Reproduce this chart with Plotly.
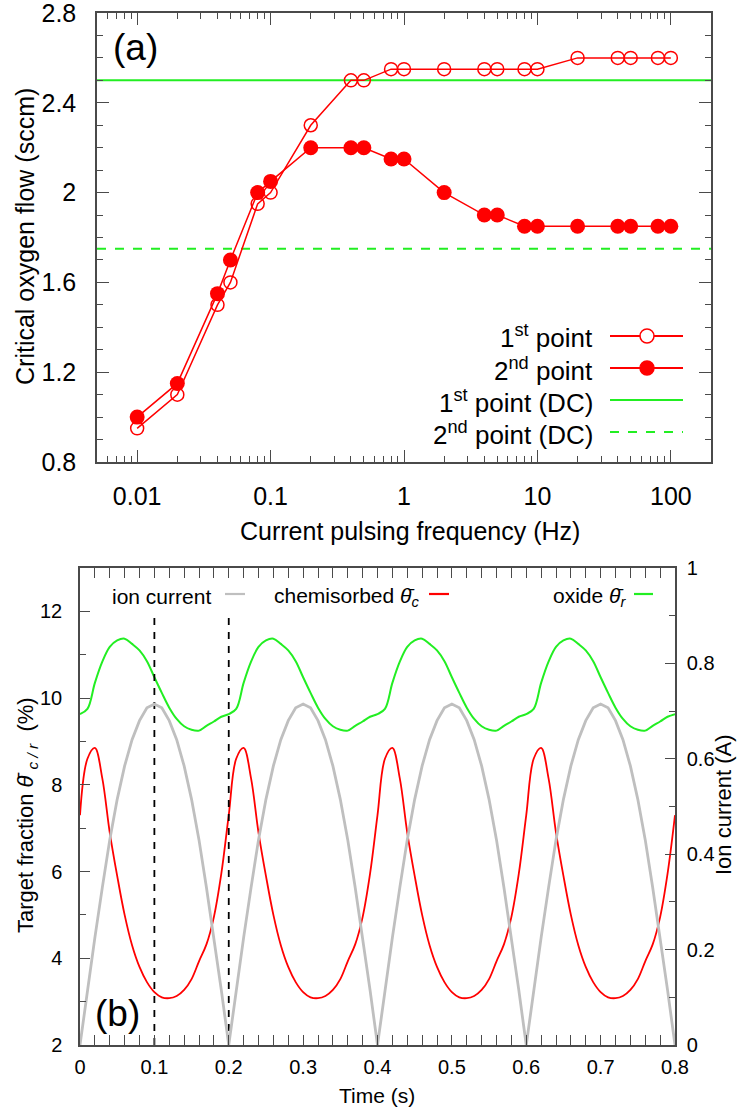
import plotly.graph_objects as go

# ---------------- panel (a): critical oxygen flow vs pulsing frequency ----------------
freq_hz = [0.01, 0.02, 0.04, 0.05, 0.08, 0.1, 0.2, 0.4, 0.5, 0.8, 1, 2, 4, 5, 8, 10,
           20, 40, 50, 80, 100]
first_point = [0.95, 1.10, 1.50, 1.60, 1.95, 2.00, 2.30, 2.50, 2.50, 2.55, 2.55, 2.55,
               2.55, 2.55, 2.55, 2.55, 2.60, 2.60, 2.60, 2.60, 2.60]
second_point = [1.00, 1.15, 1.55, 1.70, 2.00, 2.05, 2.20, 2.20, 2.20, 2.15, 2.15, 2.00,
                1.90, 1.90, 1.85, 1.85, 1.85, 1.85, 1.85, 1.85, 1.85]
dc_first = 2.50
dc_second = 1.75
freq_range = [0.005, 200]
freq_ticks = [0.01, 0.1, 1, 10, 100]
freq_labels = ["0.01", "0.1", "1", "10", "100"]

# ---------------- panel (b): time traces over four pulse periods ----------------
time_s = [0.00, 0.01, 0.02, 0.03, 0.04, 0.05, 0.06, 0.07, 0.08, 0.09,
          0.10, 0.11, 0.12, 0.13, 0.14, 0.15, 0.16, 0.17, 0.18, 0.19,
          0.20, 0.21, 0.22, 0.23, 0.24, 0.25, 0.26, 0.27, 0.28, 0.29,
          0.30, 0.31, 0.32, 0.33, 0.34, 0.35, 0.36, 0.37, 0.38, 0.39,
          0.40, 0.41, 0.42, 0.43, 0.44, 0.45, 0.46, 0.47, 0.48, 0.49,
          0.50, 0.51, 0.52, 0.53, 0.54, 0.55, 0.56, 0.57, 0.58, 0.59,
          0.60, 0.61, 0.62, 0.63, 0.64, 0.65, 0.66, 0.67, 0.68, 0.69,
          0.70, 0.71, 0.72, 0.73, 0.74, 0.75, 0.76, 0.77, 0.78, 0.79,
          0.80]
ion_current_a = [0.000, 0.115, 0.225, 0.330, 0.430, 0.515, 0.585, 0.640, 0.680, 0.707,
                 0.715, 0.707, 0.680, 0.640, 0.585, 0.515, 0.430, 0.330, 0.225, 0.115,
                 0.000, 0.115, 0.225, 0.330, 0.430, 0.515, 0.585, 0.640, 0.680, 0.707,
                 0.715, 0.707, 0.680, 0.640, 0.585, 0.515, 0.430, 0.330, 0.225, 0.115,
                 0.000, 0.115, 0.225, 0.330, 0.430, 0.515, 0.585, 0.640, 0.680, 0.707,
                 0.715, 0.707, 0.680, 0.640, 0.585, 0.515, 0.430, 0.330, 0.225, 0.115,
                 0.000, 0.115, 0.225, 0.330, 0.430, 0.515, 0.585, 0.640, 0.680, 0.707,
                 0.715, 0.707, 0.680, 0.640, 0.585, 0.515, 0.430, 0.330, 0.225, 0.115,
                 0.000]
chemisorbed_pct = [7.30, 8.60, 8.85, 8.15, 6.90, 5.90, 5.00, 4.30, 3.80, 3.45,
                   3.22, 3.10, 3.08, 3.13, 3.27, 3.52, 3.93, 4.32, 4.95, 5.95,
                   7.30, 8.60, 8.85, 8.15, 6.90, 5.90, 5.00, 4.30, 3.80, 3.45,
                   3.22, 3.10, 3.08, 3.13, 3.27, 3.52, 3.93, 4.32, 4.95, 5.95,
                   7.30, 8.60, 8.85, 8.15, 6.90, 5.90, 5.00, 4.30, 3.80, 3.45,
                   3.22, 3.10, 3.08, 3.13, 3.27, 3.52, 3.93, 4.32, 4.95, 5.95,
                   7.30, 8.60, 8.85, 8.15, 6.90, 5.90, 5.00, 4.30, 3.80, 3.45,
                   3.22, 3.10, 3.08, 3.13, 3.27, 3.52, 3.93, 4.32, 4.95, 5.95,
                   7.30]
oxide_pct = [9.63, 9.75, 10.35, 10.84, 11.18, 11.33, 11.37, 11.25, 11.10, 10.85,
             10.48, 10.12, 9.78, 9.52, 9.35, 9.27, 9.25, 9.36, 9.46, 9.57,
             9.63, 9.75, 10.35, 10.84, 11.18, 11.33, 11.37, 11.25, 11.10, 10.85,
             10.48, 10.12, 9.78, 9.52, 9.35, 9.27, 9.25, 9.36, 9.46, 9.57,
             9.63, 9.75, 10.35, 10.84, 11.18, 11.33, 11.37, 11.25, 11.10, 10.85,
             10.48, 10.12, 9.78, 9.52, 9.35, 9.27, 9.25, 9.36, 9.46, 9.57,
             9.63, 9.75, 10.35, 10.84, 11.18, 11.33, 11.37, 11.25, 11.10, 10.85,
             10.48, 10.12, 9.78, 9.52, 9.35, 9.27, 9.25, 9.36, 9.46, 9.57,
             9.63]
marker_times = [0.1, 0.2]
marker_span = [2, 12]

W, H = 738, 1115
RED = "#ff0000"
GREEN = "#22ee22"
GRAY = "#bfbfbf"
FRAME = "#4a4a4a"
FONT = "Liberation Sans, Arial, Helvetica, sans-serif"


def px(x):
    return x / W


def py(y):
    return 1 - y / H


fig = go.Figure()

# panel (a) traces
fig.add_trace(go.Scatter(x=freq_range, y=[dc_first, dc_first], mode="lines",
                         line=dict(color=GREEN, width=2), xaxis="x", yaxis="y",
                         showlegend=False))
fig.add_trace(go.Scatter(x=freq_range, y=[dc_second, dc_second], mode="lines",
                         line=dict(color=GREEN, width=2, dash="9px,9px"),
                         xaxis="x", yaxis="y", showlegend=False))
fig.add_trace(go.Scatter(x=freq_hz, y=first_point, mode="lines+markers",
                         line=dict(color=RED, width=1.5),
                         marker=dict(symbol="circle-open", size=13,
                                     line=dict(color=RED, width=1.5)),
                         xaxis="x", yaxis="y", showlegend=False))
fig.add_trace(go.Scatter(x=freq_hz, y=second_point, mode="lines+markers",
                         line=dict(color=RED, width=1.5),
                         marker=dict(symbol="circle", size=15, color=RED),
                         xaxis="x", yaxis="y", showlegend=False))

# panel (b) traces
fig.add_trace(go.Scatter(x=time_s, y=ion_current_a, mode="lines",
                         line=dict(color=GRAY, width=2.8), xaxis="x2", yaxis="y3",
                         showlegend=False))
fig.add_trace(go.Scatter(x=time_s, y=chemisorbed_pct, mode="lines",
                         line=dict(color=RED, width=1.8, shape="spline", smoothing=1.0),
                         xaxis="x2", yaxis="y2", showlegend=False))
fig.add_trace(go.Scatter(x=time_s, y=oxide_pct, mode="lines",
                         line=dict(color=GREEN, width=2, shape="spline", smoothing=1.0),
                         xaxis="x2", yaxis="y2", showlegend=False))
for tm in marker_times:
    fig.add_trace(go.Scatter(x=[tm, tm], y=marker_span, mode="lines",
                             line=dict(color="black", width=1.8, dash="7px,7px"),
                             xaxis="x2", yaxis="y2", showlegend=False))

axis_common = dict(showline=True, linecolor=FRAME, linewidth=1.5, ticks="inside",
                   tickcolor=FRAME, tickwidth=1.3, showgrid=False, zeroline=False,
                   automargin=False, ticklabeloverflow="allow")

fig.update_layout(
    width=W, height=H, autosize=False,
    margin=dict(l=0, r=0, t=0, b=0, pad=0),
    paper_bgcolor="white", plot_bgcolor="white",
    font=dict(family=FONT, color="black"),
    xaxis=dict(axis_common, type="log", range=[-2.301, 2.301], mirror="allticks",
               domain=[px(97), px(711)], anchor="y",
               tickvals=freq_ticks, ticktext=freq_labels, ticklen=12,
               tickfont=dict(size=25), ticklabelstandoff=11,
               minor=dict(ticks="inside", ticklen=6, tickcolor=FRAME, tickwidth=1.1,
                          dtick="D1", showgrid=False)),
    yaxis=dict(axis_common, range=[0.8, 2.8], domain=[py(462), py(13)], anchor="x",
               mirror="allticks",
               tick0=0.8, dtick=0.4, ticklen=12, tickfont=dict(size=25),
               ticklabelstandoff=14,
               minor=dict(ticks="inside", ticklen=6, tickcolor=FRAME, tickwidth=1.1,
                          dtick=0.1, showgrid=False)),
    xaxis2=dict(axis_common, range=[0, 0.8], domain=[px(80), px(675)], anchor="y2",
                mirror="allticks",
                tick0=0, dtick=0.1, ticklen=10, tickfont=dict(size=20),
                ticklabelstandoff=3,
                minor=dict(ticks="inside", ticklen=5, tickcolor=FRAME, tickwidth=1.1,
                           dtick=0.02, showgrid=False)),
    yaxis2=dict(axis_common, range=[2, 13], domain=[py(1045), py(568)], anchor="x2",
                tickvals=[2, 4, 6, 8, 10, 12], ticklen=10, tickfont=dict(size=20),
                ticklabelstandoff=12,
                minor=dict(ticks="inside", ticklen=6, tickcolor=FRAME, tickwidth=1.1,
                           dtick=1, showgrid=False)),
    yaxis3=dict(axis_common, overlaying="y2", side="right", anchor="x2", range=[0, 1],
                tick0=0, dtick=0.2, ticklen=10, tickfont=dict(size=20),
                ticklabelstandoff=6,
                minor=dict(ticks="inside", ticklen=6, tickcolor=FRAME, tickwidth=1.1,
                           dtick=0.1, showgrid=False)),
)

annotations = [
    # panel (a) labels
    dict(text="(a)", x=px(135), y=py(48), font=dict(size=37)),
    dict(text="Critical oxygen flow (sccm)", x=px(25), y=py(237), textangle=-90,
         font=dict(size=25)),
    dict(text="Current pulsing frequency (Hz)", x=px(410), y=py(531),
         font=dict(size=25)),
    # panel (b) labels
    dict(text="(b)", x=px(117), y=py(1013), font=dict(size=37)),
    dict(text="Time (s)", x=px(377), y=py(1095), font=dict(size=21)),
    dict(text="Target fraction <i>θ̄</i> <sub><i>c / r</i></sub>  (%)", x=px(27),
         y=py(815), textangle=-90, font=dict(size=22)),
    dict(text="Ion current (A)", x=px(723), y=py(805), textangle=-90,
         font=dict(size=22)),
]

# legend of panel (a): text on the left, line sample on the right
legend_a = [
    ("1<sup>st</sup> point", 336, "solid", "open"),
    ("2<sup>nd</sup> point", 368, "solid", "filled"),
    ("1<sup>st</sup> point (DC)", 400, "solid", None),
    ("2<sup>nd</sup> point (DC)", 432, "dash", None),
]
shapes = []
for label, yy, dash, mk in legend_a:
    annotations.append(dict(text=label, x=px(595), y=py(yy + 1), xanchor="right",
                            font=dict(size=26)))
    color = RED if mk else GREEN
    shapes.append(dict(type="line", xref="paper", yref="paper", x0=px(610), x1=px(683),
                       y0=py(yy), y1=py(yy),
                       line=dict(color=color, width=1.8 if mk else 2,
                                 dash="9px,9px" if dash == "dash" else "solid")))
    if mk:
        shapes.append(dict(type="circle", xref="paper", yref="paper",
                           xsizemode="pixel", ysizemode="pixel",
                           xanchor=px(647), yanchor=py(yy),
                           x0=-7, x1=7, y0=-7, y1=7,
                           line=dict(color=RED, width=1.5),
                           fillcolor="white" if mk == "open" else RED))

# legend of panel (b): one row along the top of the frame
legend_b = [
    ("ion current", 213, 225, 245, GRAY),
    ("chemisorbed <i>θ̄</i><sub><i>c</i></sub>", 421, 429, 449, RED),
    ("oxide <i>θ̄</i><sub><i>r</i></sub>", 628, 634, 653, GREEN),
]
for label, xr, s0, s1, color in legend_b:
    annotations.append(dict(text=label, x=px(xr), y=py(597), xanchor="right",
                            font=dict(size=21)))
    shapes.append(dict(type="line", xref="paper", yref="paper", x0=px(s0), x1=px(s1),
                       y0=py(594), y1=py(594), line=dict(color=color, width=2.2)))

for a in annotations:
    a.setdefault("xref", "paper")
    a.setdefault("yref", "paper")
    a.setdefault("xanchor", "center")
    a.setdefault("yanchor", "middle")
    a.setdefault("showarrow", False)

fig.update_layout(annotations=annotations, shapes=shapes)

fig.write_html("out.html")
